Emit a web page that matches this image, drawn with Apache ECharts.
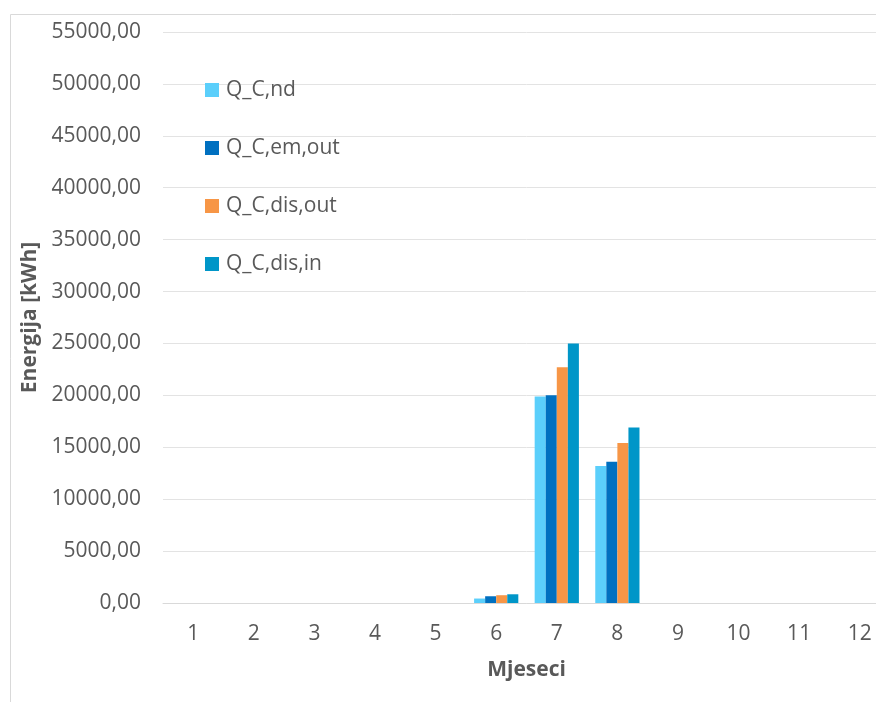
<!DOCTYPE html>
<html>
<head>
<meta charset="utf-8">
<script src="https://cdn.jsdelivr.net/npm/echarts@6/dist/echarts.min.js"></script>
<style>html,body{margin:0;padding:0;background:#fff;overflow:hidden;width:876px;height:702px}#c{width:892px;height:702px}</style>
</head>
<body>
<div id="c"></div>
<script>
const months = ['1','2','3','4','5','6','7','8','9','10','11','12'];
const seriesNames = ['Q_C,nd','Q_C,em,out','Q_C,dis,out','Q_C,dis,in'];
const qNd     = [0,0,0,0,0,430,19900,13200,0,0,0,0];
const qEmOut  = [0,0,0,0,0,650,20000,13600,0,0,0,0];
const qDisOut = [0,0,0,0,0,750,22700,15400,0,0,0,0];
const qDisIn  = [0,0,0,0,0,840,25000,16900,0,0,0,0];
const colors = ['#5BCFFB','#0070C0','#F79646','#0096C8'];

const FONT = "'Open Sans', sans-serif";
const TXT = '#595959';
const chart = echarts.init(document.getElementById('c'));
const values = [qNd, qEmOut, qDisOut, qDisIn];
chart.setOption({
  animation: false,
  graphic: [{type:'rect', left:8, top:12, shape:{width:900, height:700}, style:{fill:'none', stroke:'#d9d9d9', lineWidth:1}, silent:true}],
  grid: {left:163, right:2, top:32, bottom:99},
  legend: {
    orient:'vertical', left:205, top:79, padding:0,
    itemWidth:14, itemHeight:14, itemGap:36, icon:'rect',
    textStyle:{fontFamily:FONT, fontSize:21, color:TXT, lineHeight:22, padding:[0,0,0,2]},
    data: seriesNames
  },
  xAxis: {
    type:'category', data: months,
    name:'Mjeseci', nameLocation:'middle', nameGap:57,
    nameTextStyle:{fontFamily:FONT, fontSize:21, fontWeight:'bold', color:TXT},
    axisLine:{lineStyle:{color:'#d9d9d9'}}, axisTick:{show:false},
    axisLabel:{fontFamily:FONT, fontSize:21, color:TXT, margin:21}
  },
  yAxis: {
    type:'value', min:0, max:55000, interval:5000,
    name:'Energija [kWh]', nameLocation:'middle', nameGap:120,
    nameTextStyle:{fontFamily:FONT, fontSize:21, fontWeight:'bold', color:TXT},
    axisLine:{show:false}, axisTick:{show:false},
    splitLine:{lineStyle:{color:'#e3e3e3'}},
    axisLabel:{fontFamily:FONT, fontSize:21, color:TXT, margin:22,
      formatter: v => v.toFixed(2).replace('.', ',')}
  },
  series: seriesNames.map((n,i) => ({
    name:n, type:'bar', data: values[i], barGap:'0%', barCategoryGap:'27%',
    itemStyle:{color:colors[i]}
  }))
});
</script>
</body>
</html>
